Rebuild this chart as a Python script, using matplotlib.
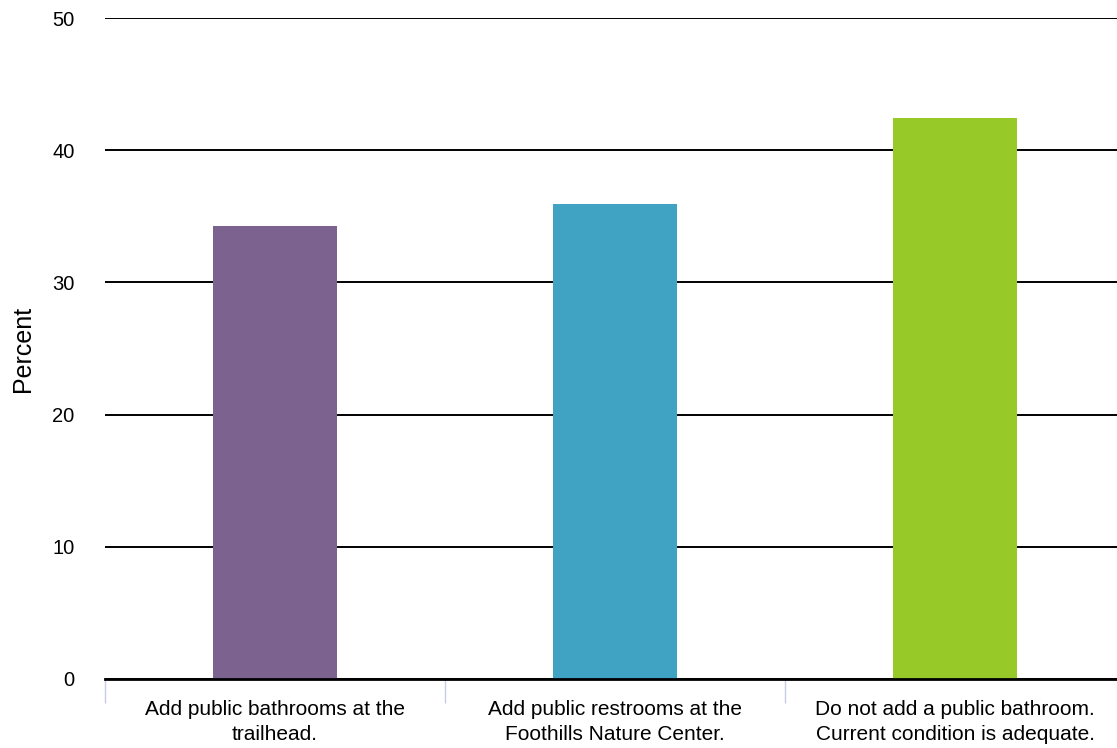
import matplotlib.pyplot as plt

categories = ['Add public bathrooms at the\ntrailhead.',
              'Add public restrooms at the\nFoothills Nature Center.',
              'Do not add a public bathroom.\nCurrent condition is adequate.']
percent = [34.3, 35.9, 42.4]
colors = ['#7b628f', '#40a3c3', '#97c928']

plt.rcParams['font.family'] = ['Liberation Sans', 'DejaVu Sans']

fig = plt.figure(figsize=(11.17, 7.48), dpi=100)
ax = fig.add_axes([105 / 1117, 69 / 748, 1020 / 1117, 661 / 748])

x = list(range(len(categories)))
ax.bar(x, percent, width=0.362, color=colors, zorder=3)

ax.set_xlim(-0.5, len(categories) - 0.5)
ax.set_ylim(0, 50)
ax.set_yticks([0, 10, 20, 30, 40, 50])
ax.yaxis.grid(True, color='black', linewidth=1.4, zorder=1)
ax.set_axisbelow(True)

for side in ['top', 'right', 'left']:
    ax.spines[side].set_visible(False)
ax.spines['bottom'].set_linewidth(2)
ax.spines['bottom'].set_zorder(4)

ax.tick_params(axis='y', length=0, labelsize=14.5, pad=22)
ax.set_xticks(x)
ax.set_xticklabels(categories, fontsize=15, linespacing=1.42)
ax.tick_params(axis='x', length=0, pad=15)

# separator ticks between categories
ax.set_xticks([-0.5, 0.5, 1.5], minor=True)
ax.tick_params(axis='x', which='minor', length=17, width=1, color='#c8cde6')

ax.set_ylabel('Percent', fontsize=18, labelpad=12)

fig.savefig('out.png', dpi=100)
